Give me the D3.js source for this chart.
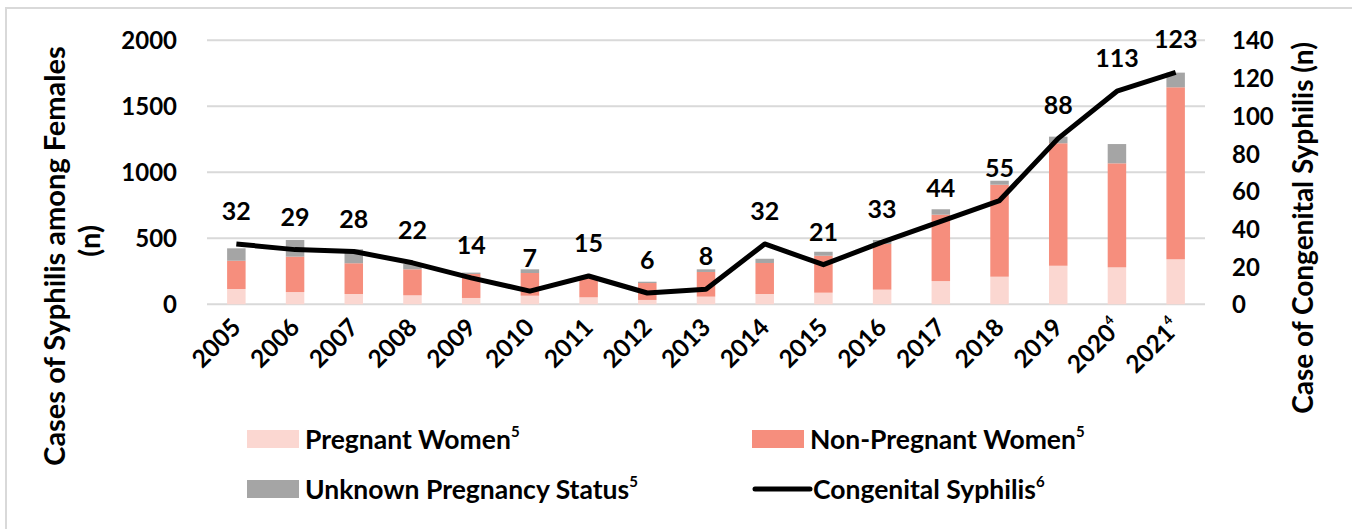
<!DOCTYPE html>
<html>
<head>
<meta charset="utf-8">
<script src="https://cdn.jsdelivr.net/npm/d3@7"></script>
<style>
  body { margin: 0; background: #fff; }
  svg text { font-family: Lato, "Open Sans", sans-serif; font-weight: bold; fill: #000; }
</style>
</head>
<body>
<div id="chart"></div>
<script>
// Chart data
var years = ["2005", "2006", "2007", "2008", "2009", "2010", "2011", "2012", "2013",
             "2014", "2015", "2016", "2017", "2018", "2019", "2020", "2021"];
var yearNotes = ["", "", "", "", "", "", "", "", "", "", "", "", "", "", "", "4", "4"];
var pregnant = [116, 93, 78, 68, 48, 65, 53, 33, 58, 78, 88, 111, 176, 209, 292, 280, 341];
var nonPregnant = [214, 268, 233, 197, 182, 172, 141, 128, 187, 235, 280, 346, 503, 697, 928, 788, 1303];
var unknown = [94, 126, 106, 40, 10, 28, 8, 10, 20, 32, 30, 30, 41, 30, 50, 146, 111];
var congenital = [32, 29, 28, 22, 14, 7, 15, 6, 8, 32, 21, 33, 44, 55, 88, 113, 123];
var leftTicks = [0, 500, 1000, 1500, 2000];
var rightTicks = [0, 20, 40, 60, 80, 100, 120, 140];

var colors = { pregnant: "#FBD7D1", nonPregnant: "#F68E7D", unknown: "#A5A5A5" };

var svgWidth = 1352, svgHeight = 529;
var plot = { left: 207, right: 1205, top: 40.3, bottom: 304.3 };

var svg = d3.select("#chart").append("svg")
  .attr("width", svgWidth)
  .attr("height", svgHeight);

// outer frame
svg.append("rect")
  .attr("x", 6).attr("y", 8)
  .attr("width", svgWidth + 10).attr("height", svgHeight)
  .attr("fill", "none")
  .attr("stroke", "#D9D9D9")
  .attr("stroke-width", 2);

// Scales
var xScale = d3.scaleBand()
  .domain(years)
  .range([plot.left, plot.right])
  .paddingInner(0.685)
  .paddingOuter(0.3425);

var yLeft = d3.scaleLinear().domain([0, 2000]).range([plot.bottom, plot.top]);
var yRight = d3.scaleLinear().domain([0, 140]).range([plot.bottom, plot.top]);

// Gridlines
svg.append("g")
  .selectAll("line")
  .data(leftTicks)
  .enter().append("line")
  .attr("x1", plot.left).attr("x2", plot.right)
  .attr("y1", d => yLeft(d)).attr("y2", d => yLeft(d))
  .attr("stroke", "#D9D9D9")
  .attr("stroke-width", 2);

// Left axis
var leftAxis = svg.append("g")
  .attr("transform", `translate(${plot.left - 30}, 0)`)
  .call(d3.axisLeft(yLeft).tickValues(leftTicks).tickFormat(d3.format("d")).tickSize(0).tickPadding(0));
leftAxis.select(".domain").remove();
leftAxis.selectAll("text").attr("font-size", "24px").attr("dy", "0.36em");

// Right axis
var rightAxis = svg.append("g")
  .attr("transform", `translate(${plot.right + 27}, 0)`)
  .call(d3.axisRight(yRight).tickValues(rightTicks).tickFormat(d3.format("d")).tickSize(0).tickPadding(0));
rightAxis.select(".domain").remove();
rightAxis.selectAll("text").attr("font-size", "24px").attr("dy", "0.36em");

// Stacked bars
var rows = years.map((yr, i) => ({
  year: yr, pregnant: pregnant[i], nonPregnant: nonPregnant[i], unknown: unknown[i]
}));
var stack = d3.stack().keys(["pregnant", "nonPregnant", "unknown"]);
var series = stack(rows);

svg.append("g")
  .selectAll("g")
  .data(series)
  .enter().append("g")
  .attr("fill", d => colors[d.key])
  .selectAll("rect")
  .data(d => d)
  .enter().append("rect")
  .attr("x", d => xScale(d.data.year))
  .attr("width", xScale.bandwidth())
  .attr("y", d => yLeft(d[1]))
  .attr("height", d => yLeft(d[0]) - yLeft(d[1]));

// Congenital syphilis line
var line = d3.line()
  .x((d, i) => xScale(years[i]) + xScale.bandwidth() / 2)
  .y(d => yRight(d));

svg.append("path")
  .datum(congenital)
  .attr("d", line)
  .attr("fill", "none")
  .attr("stroke", "#000")
  .attr("stroke-width", 5)
  .attr("stroke-linejoin", "round");

// Line labels
svg.append("g")
  .selectAll("text")
  .data(congenital)
  .enter().append("text")
  .attr("x", (d, i) => xScale(years[i]) + xScale.bandwidth() / 2)
  .attr("y", d => yRight(d) - 24)
  .attr("text-anchor", "middle")
  .attr("font-size", "25px")
  .text(d => d);

// X axis labels (rotated)
var xLabels = svg.append("g")
  .selectAll("text")
  .data(years)
  .enter().append("text")
  .attr("text-anchor", "end")
  .attr("font-size", "24.5px")
  .attr("transform", d => `translate(${xScale(d) + xScale.bandwidth() / 2 + 6}, 329) rotate(-45)`);
xLabels.append("tspan").text(d => d);
xLabels.append("tspan")
  .attr("font-size", "13px")
  .attr("dy", "-0.9em")
  .text((d, i) => yearNotes[i]);

// Axis titles
var leftTitle = svg.append("text")
  .attr("transform", "translate(55, 256) rotate(-90)")
  .attr("text-anchor", "middle")
  .attr("font-size", "29px");
leftTitle.append("tspan").attr("x", 0).attr("dy", "0.35em").text("Cases of Syphilis among Females");
leftTitle.append("tspan").attr("x", 15).attr("dy", "1.2em").text("(n)");

svg.append("text")
  .attr("transform", "translate(1303, 228) rotate(-90)")
  .attr("text-anchor", "middle")
  .attr("dy", "0.35em")
  .attr("font-size", "28px")
  .text("Case of Congenital Syphilis (n)");

// Legend
var legendItems = [
  { label: "Pregnant Women", note: "5", type: "rect", color: colors.pregnant, x: 247, y: 439 },
  { label: "Non-Pregnant Women", note: "5", type: "rect", color: colors.nonPregnant, x: 752, y: 439 },
  { label: "Unknown Pregnancy Status", note: "5", type: "rect", color: colors.unknown, x: 247, y: 489 },
  { label: "Congenital Syphilis", note: "6", type: "line", color: "#000", x: 752, y: 489 }
];

var legend = svg.append("g")
  .selectAll("g")
  .data(legendItems)
  .enter().append("g")
  .attr("transform", d => `translate(${d.x}, ${d.y})`);

legend.filter(d => d.type === "rect").append("rect")
  .attr("x", 0).attr("y", -9)
  .attr("width", 52).attr("height", 18)
  .attr("fill", d => d.color);

legend.filter(d => d.type === "line").append("line")
  .attr("x1", 3).attr("x2", 58)
  .attr("y1", 0).attr("y2", 0)
  .attr("stroke", "#000")
  .attr("stroke-width", 5)
  .attr("stroke-linecap", "round");

var legendText = legend.append("text")
  .attr("x", d => d.type === "line" ? 61 : 58)
  .attr("y", 0)
  .attr("dy", "0.36em")
  .attr("font-size", "26.5px");
legendText.append("tspan").text(d => d.label);
legendText.append("tspan")
  .attr("font-size", "15px")
  .attr("dy", "-0.8em")
  .text(d => d.note);
</script>
</body>
</html>
